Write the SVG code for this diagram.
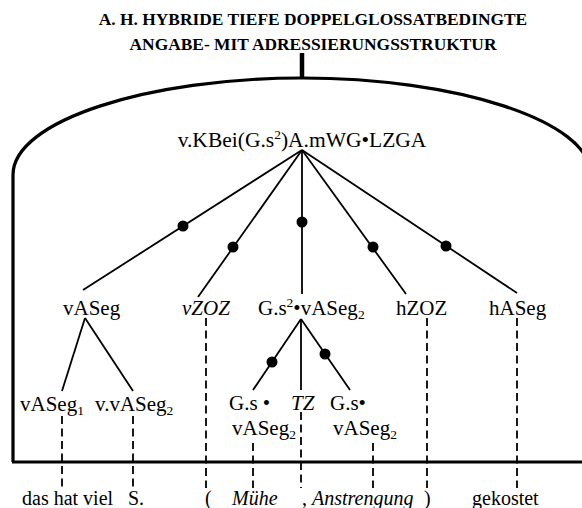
<svg xmlns="http://www.w3.org/2000/svg" width="582" height="508" viewBox="0 0 582 508">
<style>
.t{font-family:"Liberation Serif","Times New Roman",serif;font-size:20px;fill:#000}
.n{font-size:21px}
.r{font-size:21.5px}
.i{font-style:italic}
.ttl{font-family:"Liberation Serif","Times New Roman",serif;font-weight:bold;font-size:17.4px;fill:#000}
.sub{font-size:13.5px}
.edge{stroke:#000;stroke-width:1.8;fill:none}
.dash{stroke:#000;stroke-width:1.8;stroke-dasharray:8 4.5;fill:none}
.frame{stroke:#000;stroke-width:3.2;fill:none}
.dot{fill:#000}
</style>
<rect width="582" height="508" fill="#fff"/>
<g id="title">
<text class="ttl" x="313" y="25" text-anchor="middle">A. H. HYBRIDE TIEFE DOPPELGLOSSATBEDINGTE</text>
<text class="ttl" x="313" y="50" text-anchor="middle">ANGABE- MIT ADRESSIERUNGSSTRUKTUR</text>
</g>
<g id="frame">
<line x1="302" y1="53" x2="302" y2="79" stroke="#000" stroke-width="4.5"/>
<path class="frame" d="M13,462 L13,175 C13,120 150,78 302,78 C454,78 591,120 591,175 L591,462"/>
<line class="frame" x1="12" y1="462" x2="582" y2="462"/>
</g>
<g id="connectors">
<line class="edge" x1="302" y1="150" x2="83" y2="290"/>
<line class="edge" x1="302" y1="150" x2="198" y2="297"/>
<line class="edge" x1="302" y1="150" x2="302" y2="294"/>
<line class="edge" x1="302" y1="150" x2="406" y2="294"/>
<line class="edge" x1="302" y1="150" x2="517" y2="293"/>
<circle class="dot" cx="183" cy="226" r="5.5"/>
<circle class="dot" cx="233" cy="247" r="5.5"/>
<circle class="dot" cx="302" cy="222" r="5.5"/>
<circle class="dot" cx="373" cy="247" r="5.5"/>
<circle class="dot" cx="446" cy="246" r="5.5"/>
<line class="edge" x1="85" y1="318" x2="62" y2="391"/>
<line class="edge" x1="85" y1="318" x2="133" y2="391"/>
<line class="edge" x1="301" y1="319" x2="253" y2="390"/>
<line class="edge" x1="301" y1="319" x2="301" y2="390"/>
<line class="edge" x1="301" y1="319" x2="350" y2="390"/>
<circle class="dot" cx="272" cy="362" r="5.5"/>
<circle class="dot" cx="325" cy="354" r="5.5"/>
<line class="dash" x1="62" y1="416" x2="62" y2="488"/>
<line class="dash" x1="133" y1="416" x2="133" y2="488"/>
<line class="dash" x1="206" y1="318" x2="206" y2="488"/>
<line class="dash" x1="253" y1="443" x2="253" y2="488"/>
<line class="dash" x1="301" y1="412" x2="301" y2="488"/>
<line class="dash" x1="373" y1="443" x2="373" y2="488"/>
<line class="dash" x1="427" y1="318" x2="427" y2="488"/>
<line class="dash" x1="517" y1="318" x2="517" y2="488"/>
</g>
<g id="root"><text class="t r" x="302" y="147" text-anchor="middle">v.KBei(G.s<tspan class="sub" dy="-8">2</tspan><tspan dy="8">)A.mWG•LZGA</tspan></text></g>
<g id="vASeg"><text class="t n" x="63" y="315">vASeg</text></g>
<g id="vZOZ"><text class="t n i" x="182" y="315">vZOZ</text></g>
<g id="Gs2vASeg2"><text class="t n" x="258" y="315">G.s<tspan class="sub" dy="-8">2</tspan><tspan dy="8">•vASeg</tspan><tspan class="sub" dy="4">2</tspan></text></g>
<g id="hZOZ"><text class="t n" x="396" y="315">hZOZ</text></g>
<g id="hASeg"><text class="t n" x="489" y="315">hASeg</text></g>
<g id="vASeg1"><text class="t n" x="20" y="411">vASeg<tspan class="sub" dy="4">1</tspan></text></g>
<g id="vvASeg2"><text class="t n" x="95" y="411">v.vASeg<tspan class="sub" dy="4">2</tspan></text></g>
<g id="GsvASeg2a"><text class="t n" x="229" y="410">G.s •</text><text class="t n" x="232" y="435">vASeg<tspan class="sub" dy="4">2</tspan></text></g>
<g id="TZ"><text class="t n i" x="291" y="410">TZ</text></g>
<g id="GsvASeg2b"><text class="t n" x="330" y="410">G.s•</text><text class="t n" x="333" y="435">vASeg<tspan class="sub" dy="4">2</tspan></text></g>
<g id="sentence">
<text class="t" x="22" y="505">das hat viel</text>
<text class="t" x="128" y="505">S.</text>
<text class="t" x="205" y="505">(</text>
<text class="t i" x="232" y="505">Mühe</text>
<text class="t" x="302" y="505">,</text>
<text class="t i" x="312" y="505">Anstrengung</text>
<text class="t" x="424" y="505">)</text>
<text class="t" x="472" y="505">gekostet</text>
</g>
</svg>
